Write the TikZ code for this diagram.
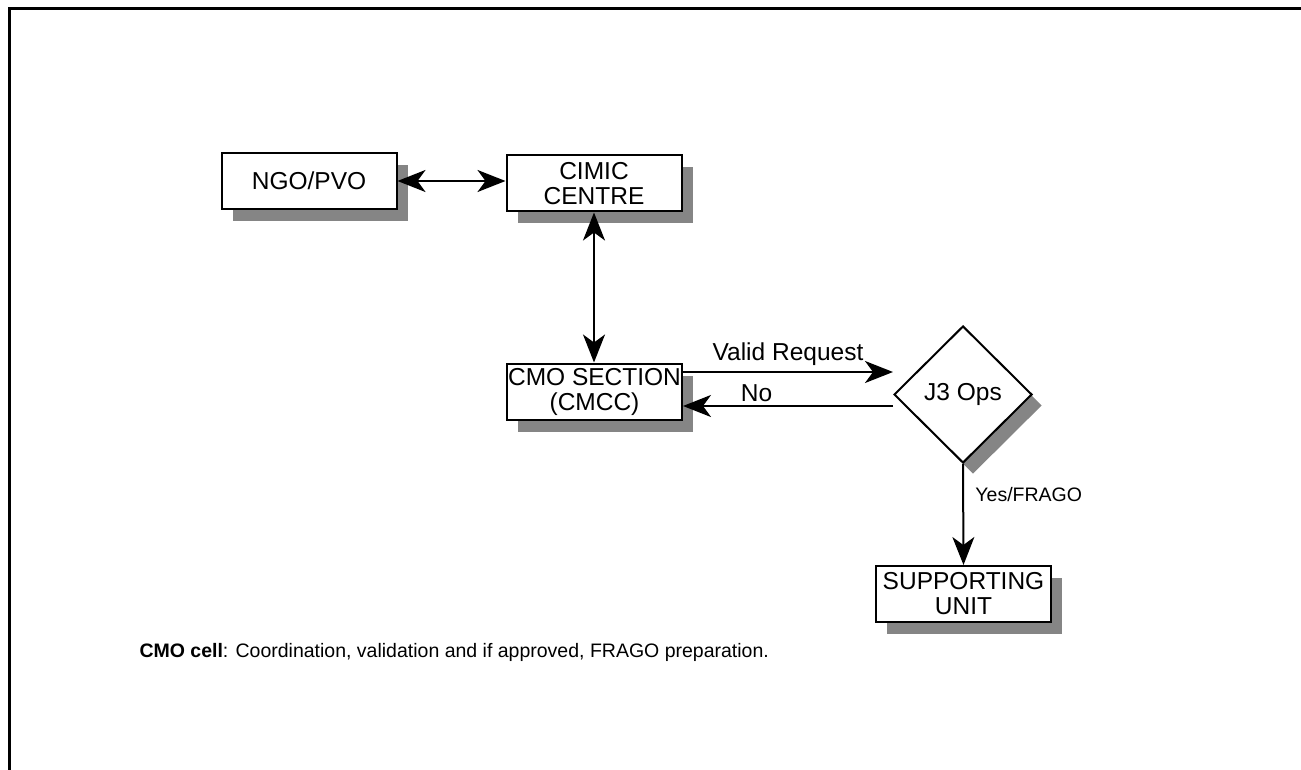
\documentclass[tikz,border=0pt]{standalone}
\usepackage{fontspec}
\setmainfont{Liberation Sans}
\usetikzlibrary{arrows.meta, shapes.geometric, shadows}

\begin{document}
\begin{tikzpicture}[> = {Stealth[length = 28pt, width = 22pt, inset = 8pt]}, x = 1pt, y = -1pt,
	box/.style = {draw, line width = 2pt, fill = white, minimum width = 175pt, minimum height = 56pt,
		inner sep = 0pt, align = center, font = \fontsize{24.5}{25}\selectfont,
		drop shadow = {shadow xshift = 11pt, shadow yshift = -12pt, fill = black!48, opacity = 1}},
	decision/.style = {diamond, draw, line width = 2pt, fill = white, minimum width = 138pt,
		minimum height = 137pt, inner sep = 0pt, font = \fontsize{24.5}{25}\selectfont,
		drop shadow = {shadow xshift = 10pt, shadow yshift = -11pt, fill = black!48, opacity = 1}},
	flow/.style = {line width = 2pt},
	big/.style = {font = \fontsize{24.5}{25}\selectfont},
	small/.style = {font = \fontsize{19.5}{21}\selectfont}]

	% Page and frame

	\useasboundingbox (0, 0) rectangle (1301, 770);
	\draw [line width = 3pt] (9, 770) -- (9, 9) -- (1301, 9);

	% Boxes

	\node [box] (ngo) at (309, 181) {NGO/PVO};
	\node [box] (cimic) at (594, 183.5) {CIMIC\\CENTRE};
	\node [box] (cmo) at (594.5, 391.5) {CMO SECTION\\(CMCC)};
	\node [decision] (j3) at (963, 394.5) {J3 Ops};
	\node [box] (unit) at (963.5, 594) {SUPPORTING\\UNIT};

	% Connections

	\draw [flow, <->] (ngo.east) -- (ngo.east -| cimic.west);
	\draw [flow, <->] (cimic.south) -- (cimic.south |- cmo.north);

	\draw [flow, ->] ([yshift = 19.5pt] cmo.east) -- ([yshift = 19.5pt] cmo.east -| j3.west)
		node [midway, above = 2pt, big] {Valid Request};
	\draw [flow, ->] ([yshift = -11.5pt] j3.west) -- ([yshift = -11.5pt] j3.west -| cmo.east)
		node [pos = 0.65, above, big] {No};

	\draw [flow, ->] (j3.south) -- (unit.north) node [pos = 0.3, right = 8pt, small] {Yes/FRAGO};

	% Note

	\node [small, anchor = base west] (note) at (136, 657)
		{\textbf{CMO cell}: Coordination, validation and if approved, FRAGO preparation.};

\end{tikzpicture}
\end{document}
